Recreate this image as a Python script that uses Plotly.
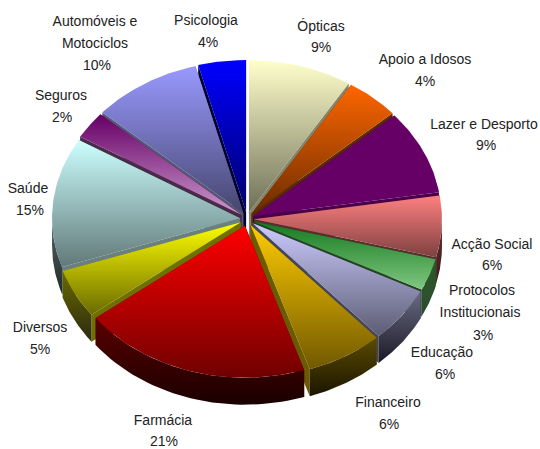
import math
import plotly.graph_objects as go

categories = ["Ópticas", "Apoio a Idosos", "Lazer e Desporto", "Acção Social", "Protocolos Institucionais",
              "Educação", "Financeiro", "Farmácia", "Diversos", "Saúde", "Seguros",
              "Automóveis e Motociclos", "Psicologia"]
percent_labels = [9, 4, 9, 6, 3, 6, 6, 21, 5, 15, 2, 10, 4]
# slice sizes as they appear on the tilted pie
slice_sizes = [8.9, 4.6, 9.0, 6.5, 3.4, 5.9, 6.6, 19.7, 5.2, 13.8, 2.9, 9.4, 4.1]

top_colors = ["#FFFFCC", "#FF6600", "#660066", "#FF8080", "#14781E", "#CCCCFF", "#FFCC00",
              "#FF0000", "#FFFF00", "#CCFFFF", "#660066", "#9999FF", "#0000FF"]
bottom_colors = ["#6E6E58", "#6A2C00", "#660066", "#7E4040", "#80C880", "#5C5C74", "#705800",
                 "#700000", "#6A6A00", "#627878", "#CC99CC", "#46466E", "#00006A"]
wall_colors = ["#85856A", "#5A2A00", "#4A004A", "#5A2C2C", "#224422", "#44445A", "#6B5A00",
               "#5A0000", "#707000", "#6A8080", "#4A2A4A", "#555577", "#000033"]
rim_top = ["#6E6E58", "#5A2A00", "#330033", "#6A3030", "#2A5A2A", "#6A6A84", "#5A4A00",
           "#5A0000", "#6A6A00", "#556666", "#4A2A4A", "#333355", "#000033"]
rim_bottom = ["#333322", "#2A1400", "#1A001A", "#3A1A1A", "#2F4A2F", "#1A1A25", "#1A1500",
              "#1A0000", "#2A2A10", "#1F2A2A", "#2A152A", "#1A1A30", "#00001A"]

# (text, centre x, centre y) of every label line
label_lines = [
    ("Psicologia", 206, 21), ("4%", 208, 43),
    ("Automóveis e", 95, 22), ("Motociclos", 95, 44), ("10%", 97, 66),
    ("Ópticas", 321, 27), ("9%", 321, 48),
    ("Apoio a Idosos", 425, 60), ("4%", 425, 82),
    ("Lazer e Desporto", 484, 125), ("9%", 486, 146),
    ("Seguros", 61, 96), ("2%", 62, 118),
    ("Saúde", 28, 189), ("15%", 30, 211),
    ("Acção Social", 492, 245), ("6%", 492, 266),
    ("Protocolos", 482, 291), ("Institucionais", 480, 313), ("3%", 483, 336),
    ("Educação", 442, 353), ("6%", 445, 375),
    ("Financeiro", 388, 403), ("6%", 389, 425),
    ("Farmácia", 163, 421), ("21%", 164, 442),
    ("Diversos", 40, 328), ("5%", 40, 350),
]

CX, CY, RX, RY, DEPTH, PULL = 247, 219, 188, 152, 27, 7


def pt(ox, oy, a):
    return ox + RX * math.sin(a), oy - RY * math.cos(a)


def arc(ox, oy, a0, a1, n=40):
    return [pt(ox, oy, a0 + (a1 - a0) * i / n) for i in range(n + 1)]


def poly(points, c0, c1=None):
    xs = [p[0] for p in points] + [points[0][0]]
    ys = [p[1] for p in points] + [points[0][1]]
    kw = dict(fillcolor=c0)
    if c1 is not None and c1 != c0:
        # the y axis runs downwards on screen, so the scale is given bottom colour first
        kw = dict(fillgradient=dict(type="vertical", colorscale=[[0, c1], [1, c0]]))
    return go.Scatter(x=xs, y=ys, mode="lines", line=dict(width=0), fill="toself",
                      hoverinfo="skip", showlegend=False, **kw)


total = sum(slice_sizes)
wedges = []
cum = 0
for i, v in enumerate(slice_sizes):
    a0 = 2 * math.pi * cum / total
    a1 = 2 * math.pi * (cum + v) / total
    cum += v
    mid = (a0 + a1) / 2
    ox = CX + PULL * math.sin(mid)
    oy = CY - PULL * math.cos(mid)
    wedges.append((oy - RY * math.cos(mid) * 0.6, i, a0, a1, ox, oy))

fig = go.Figure()
for _, i, a0, a1, ox, oy in sorted(wedges):
    # radial walls
    for a in (a0, a1):
        ex, ey = pt(ox, oy, a)
        fig.add_trace(poly([(ox, oy), (ex, ey), (ex, ey + DEPTH), (ox, oy + DEPTH)], wall_colors[i]))
    # outer rim, only the part facing the viewer
    r0, r1 = max(a0, math.pi / 2), min(a1, 3 * math.pi / 2)
    if r1 > r0:
        upper = arc(ox, oy, r0, r1)
        lower = [(x, y + DEPTH) for x, y in reversed(upper)]
        fig.add_trace(poly(upper + lower, rim_top[i], rim_bottom[i]))
    # top face
    fig.add_trace(poly([(ox, oy)] + arc(ox, oy, a0, a1), top_colors[i], bottom_colors[i]))

fig.add_trace(go.Scatter(
    x=[l[1] for l in label_lines], y=[l[2] for l in label_lines],
    text=[l[0] for l in label_lines], mode="text", textposition="middle center",
    textfont=dict(family="Liberation Sans, Arial, sans-serif", size=14, color="#222222"),
    hoverinfo="skip", showlegend=False, cliponaxis=False))

fig.update_layout(
    width=540, height=449, margin=dict(l=0, r=0, t=0, b=0),
    paper_bgcolor="white", plot_bgcolor="white", showlegend=False,
    xaxis=dict(range=[0, 540], visible=False, fixedrange=True),
    yaxis=dict(range=[449, 0], visible=False, fixedrange=True),
)
fig.write_html("out.html", config={"displayModeBar": False},
               post_script="document.body.style.margin='0';document.body.style.overflow='hidden';")
